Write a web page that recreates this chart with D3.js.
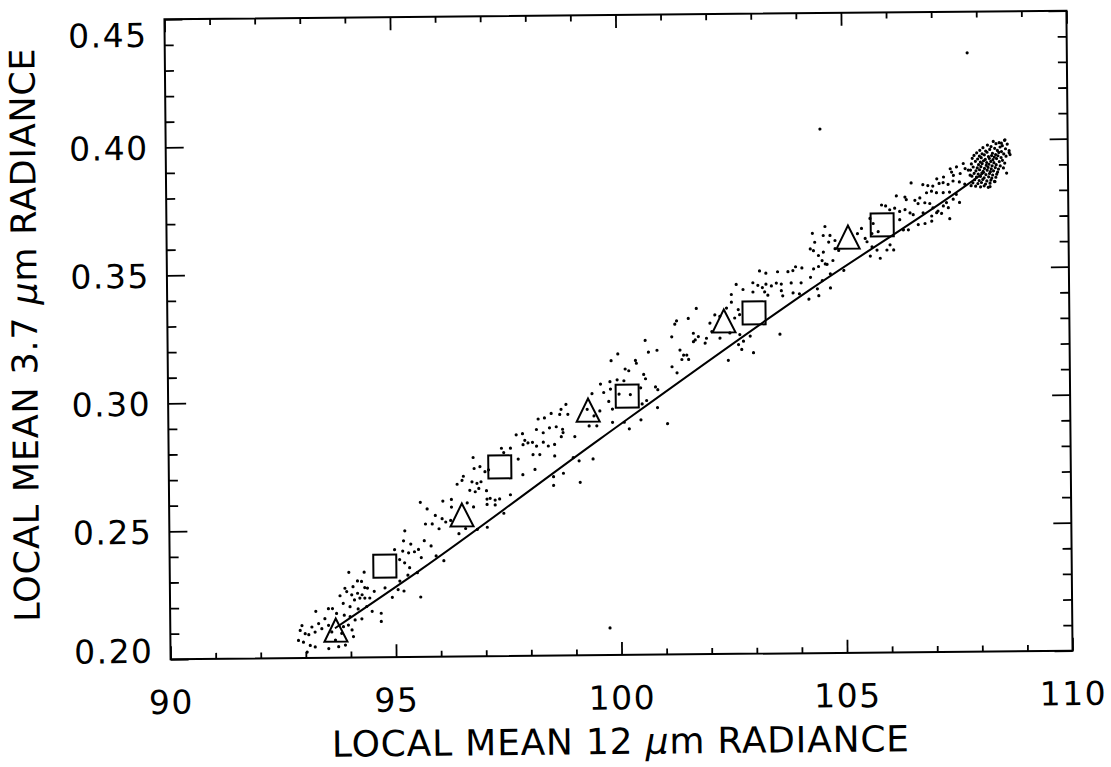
<!DOCTYPE html>
<html><head><meta charset="utf-8">
<script src="https://cdn.jsdelivr.net/npm/d3@7"></script>
<style>
body{margin:0;background:#fff;}
svg text{font-family:"DejaVu Sans",sans-serif;fill:#000;}
</style>
</head><body>
<svg id="chart" width="1111" height="767"></svg>
<script>
// ---------- data ----------
const xTickLabels = [90, 95, 100, 105, 110];
const yTickLabels = [0.20, 0.25, 0.30, 0.35, 0.40, 0.45];
const xTitle = "LOCAL MEAN 12 ";
const yTitle = "LOCAL MEAN 3.7 ";

const triangles = [[93.67,0.2108],[96.49,0.2553],[99.31,0.2958],[102.34,0.3301],[105.11,0.3624]];
const squares   = [[94.77,0.2356],[97.34,0.2739],[100.18,0.3011],[103.01,0.3331],[105.87,0.3670]];
const fitLine   = [[93.65,0.2115],[95.55,0.2339],[99.57,0.2845],[104.25,0.3419],[107.60,0.3804],[108.16,0.3873]];

const dotsLow = [[94.99,0.2420],[95.17,0.2414],[95.30,0.2407],[95.43,0.2411],[95.52,0.2420],[95.80,0.2433],[95.58,0.2388],[95.91,0.2394],[96.08,0.2375],[95.10,0.2381],[95.21,0.2368],[95.32,0.2349],[95.49,0.2329],[95.28,0.2320],[95.10,0.2297],[94.77,0.2271],[94.93,0.2234],[95.06,0.2264],[95.19,0.2258],[95.56,0.2234],[93.97,0.2333],[94.31,0.2333],[94.16,0.2299],[94.25,0.2297],[94.06,0.2277],[94.32,0.2273],[94.38,0.2271],[93.88,0.2271],[93.77,0.2242],[93.92,0.2258],[94.03,0.2245],[94.16,0.2251],[94.26,0.2245],[94.21,0.2232],[94.32,0.2232],[94.43,0.2232],[94.53,0.2258],[94.09,0.2225],[93.84,0.2212],[93.99,0.2199],[94.17,0.2190],[94.36,0.2199],[93.23,0.2182],[93.51,0.2192],[93.60,0.2192],[93.69,0.2173],[93.86,0.2166],[93.99,0.2160],[94.10,0.2147],[94.25,0.2151],[94.68,0.2172],[94.68,0.2140],[94.48,0.2180],[93.43,0.2153],[93.51,0.2127],[93.29,0.2134],[93.36,0.2114],[93.21,0.2101],[93.14,0.2121],[92.92,0.2127],[92.88,0.2108],[92.99,0.2095],[93.07,0.2091],[92.84,0.2069],[92.95,0.2062],[93.10,0.2049],[93.03,0.2023],[93.21,0.2043],[93.51,0.2036],[93.73,0.2043],[93.88,0.2049],[93.66,0.2069],[94.03,0.2108],[94.06,0.2082],[93.84,0.2121],[93.95,0.2127],[93.58,0.2101],[93.80,0.2095]];

const dotsMid = [[98.82,0.2981],[98.71,0.2962],[98.86,0.2942],[98.68,0.2942],[98.49,0.2946],[98.34,0.2929],[98.20,0.2925],[98.16,0.2884],[98.31,0.2871],[98.45,0.2890],[98.60,0.2894],[98.74,0.2884],[98.75,0.2871],[98.71,0.2855],[99.01,0.2855],[97.71,0.2864],[97.85,0.2868],[97.90,0.2842],[97.97,0.2832],[98.07,0.2834],[97.86,0.2825],[98.16,0.2819],[98.31,0.2834],[98.42,0.2819],[98.56,0.2825],[98.23,0.2786],[98.08,0.2786],[98.56,0.2780],[97.75,0.2769],[97.38,0.2812],[97.58,0.2812],[97.43,0.2795],[96.75,0.2777],[96.77,0.2734],[96.90,0.2741],[97.01,0.2721],[97.09,0.2728],[96.53,0.2704],[96.50,0.2688],[96.39,0.2673],[96.72,0.2682],[96.83,0.2676],[96.92,0.2682],[96.67,0.2649],[96.79,0.2643],[96.87,0.2656],[97.04,0.2647],[97.05,0.2614],[97.12,0.2617],[97.23,0.2610],[97.33,0.2614],[97.05,0.2593],[97.23,0.2591],[97.57,0.2630],[97.85,0.2708],[98.12,0.2728],[98.53,0.2699],[98.75,0.2712],[99.12,0.2676],[98.53,0.2665],[98.97,0.2773],[99.10,0.2760],[99.41,0.2767],[95.57,0.2604],[95.72,0.2578],[96.07,0.2608],[96.26,0.2614],[96.26,0.2584],[96.61,0.2600],[96.75,0.2584],[95.90,0.2552],[96.05,0.2539],[95.83,0.2519],[95.98,0.2500],[96.13,0.2526],[95.68,0.2519],[96.24,0.2532],[96.42,0.2480],[96.57,0.2500],[97.05,0.2504],[96.83,0.2496],[97.42,0.2558],[95.22,0.2493],[95.19,0.2454],[95.35,0.2441],[95.65,0.2454]];

const dotsUpper = [[103.14,0.3495],[103.28,0.3486],[103.54,0.3491],[103.77,0.3491],[103.88,0.3495],[102.62,0.3443],[102.99,0.3449],[103.10,0.3439],[103.20,0.3430],[103.28,0.3443],[103.40,0.3436],[103.51,0.3447],[103.62,0.3443],[103.84,0.3447],[104.06,0.3447],[102.77,0.3423],[102.99,0.3413],[103.25,0.3413],[103.32,0.3400],[103.62,0.3417],[103.65,0.3397],[103.88,0.3408],[104.02,0.3404],[102.51,0.3404],[102.51,0.3374],[102.40,0.3351],[102.66,0.3345],[102.69,0.3325],[102.58,0.3312],[101.73,0.3351],[102.14,0.3325],[102.03,0.3293],[102.25,0.3319],[101.55,0.3312],[101.29,0.3303],[101.25,0.3290],[101.66,0.3254],[101.77,0.3241],[101.70,0.3228],[101.66,0.3221],[101.95,0.3234],[101.92,0.3215],[102.07,0.3260],[102.25,0.3234],[102.47,0.3254],[102.69,0.3247],[102.77,0.3221],[102.92,0.3241],[102.99,0.3176],[102.73,0.3189],[102.66,0.3208],[103.58,0.3247],[102.43,0.3147],[101.18,0.3241],[100.59,0.3228],[100.85,0.3189],[100.66,0.3182],[101.36,0.3189],[101.44,0.3169],[101.51,0.3169],[101.55,0.3152],[101.40,0.3152],[100.37,0.3150],[100.39,0.3139],[99.98,0.3176],[99.83,0.3150],[100.14,0.3117],[100.22,0.3110],[100.55,0.3095],[100.59,0.3078],[101.18,0.3124],[101.29,0.3100],[100.48,0.3043],[100.81,0.3046],[100.86,0.3035],[100.61,0.2993],[100.51,0.2980],[100.85,0.2965],[99.96,0.3075],[100.11,0.3071],[99.59,0.3059],[99.80,0.3068],[99.81,0.3039],[99.66,0.3026],[99.40,0.3022],[100.00,0.3019],[100.25,0.3017],[99.77,0.2991],[99.85,0.2961],[99.57,0.2954],[99.29,0.2961],[99.44,0.2935],[99.50,0.2896],[99.85,0.2909],[100.11,0.2909],[100.48,0.2918],[101.07,0.2902],[100.22,0.2883],[99.33,0.2896]];

const dotsHigh = [[106.52,0.3833],[106.78,0.3826],[106.89,0.3822],[107.00,0.3820],[107.14,0.3830],[107.23,0.3833],[107.34,0.3826],[107.45,0.3839],[107.59,0.3835],[107.71,0.3826],[107.85,0.3820],[106.86,0.3794],[106.97,0.3800],[107.08,0.3794],[107.23,0.3794],[107.37,0.3796],[107.52,0.3787],[106.71,0.3774],[106.19,0.3783],[106.38,0.3778],[106.41,0.3768],[106.60,0.3765],[106.67,0.3752],[106.82,0.3755],[106.93,0.3752],[107.00,0.3735],[107.11,0.3722],[107.23,0.3742],[107.30,0.3755],[107.34,0.3735],[107.45,0.3768],[107.59,0.3755],[105.86,0.3748],[105.95,0.3744],[106.04,0.3729],[106.15,0.3735],[106.26,0.3722],[106.38,0.3729],[106.49,0.3716],[106.56,0.3709],[106.78,0.3716],[106.97,0.3703],[107.08,0.3716],[107.19,0.3713],[107.37,0.3692],[106.97,0.3683],[106.67,0.3670],[106.82,0.3674],[106.26,0.3690],[106.34,0.3650],[106.45,0.3650],[105.60,0.3696],[105.67,0.3676],[105.78,0.3644],[105.64,0.3637],[105.41,0.3657],[105.32,0.3637],[105.49,0.3618],[105.53,0.3605],[105.64,0.3585],[105.75,0.3572],[106.04,0.3592],[106.12,0.3572],[105.97,0.3572],[105.60,0.3549],[105.82,0.3540],[104.60,0.3666],[104.32,0.3640],[104.56,0.3631],[104.71,0.3631],[104.37,0.3605],[104.68,0.3605],[104.82,0.3611],[104.90,0.3572],[104.82,0.3579],[104.27,0.3579],[104.34,0.3572],[104.56,0.3566],[104.45,0.3553],[104.77,0.3533],[104.64,0.3518],[104.53,0.3533],[103.94,0.3510],[104.08,0.3505],[104.34,0.3501],[104.45,0.3510],[104.60,0.3520],[105.01,0.3494],[104.71,0.3481],[104.27,0.3468],[104.53,0.3455],[104.71,0.3426],[104.42,0.3423],[104.45,0.3396],[104.23,0.3383],[107.09,0.3848],[107.24,0.3855],[107.42,0.3874],[107.46,0.3861],[107.61,0.3868],[107.72,0.3887],[107.79,0.3881],[107.83,0.3861],[107.68,0.3907],[107.39,0.3887],[107.53,0.3894]];

const dotsCluster = [[108.35,0.3992],[108.48,0.3987],[108.60,0.3996],[108.22,0.3978],[108.41,0.3983],[108.55,0.3975],[108.66,0.3981],[108.12,0.3968],[108.30,0.3972],[108.38,0.3965],[108.50,0.3970],[108.62,0.3963],[108.05,0.3958],[108.18,0.3955],[108.27,0.3961],[108.44,0.3957],[108.53,0.3952],[108.70,0.3956],[107.98,0.3948],[108.10,0.3944],[108.21,0.3950],[108.33,0.3946],[108.40,0.3941],[108.47,0.3949],[108.58,0.3943],[107.92,0.3938],[108.04,0.3935],[108.15,0.3940],[108.24,0.3933],[108.31,0.3937],[108.37,0.3931],[108.45,0.3936],[108.52,0.3929],[108.63,0.3934],[107.88,0.3927],[108.00,0.3924],[108.08,0.3929],[108.17,0.3922],[108.26,0.3926],[108.34,0.3921],[108.42,0.3925],[108.55,0.3918],[107.95,0.3915],[108.06,0.3912],[108.13,0.3917],[108.20,0.3910],[108.29,0.3914],[108.36,0.3909],[108.48,0.3913],[108.60,0.3907],[107.86,0.3905],[108.02,0.3902],[108.10,0.3906],[108.19,0.3899],[108.25,0.3903],[108.32,0.3897],[108.41,0.3901],[108.50,0.3896],[107.90,0.3893],[107.99,0.3889],[108.07,0.3894],[108.15,0.3887],[108.23,0.3891],[108.30,0.3885],[108.39,0.3890],[108.46,0.3884],[108.57,0.3888],[107.84,0.3881],[107.96,0.3878],[108.04,0.3882],[108.12,0.3876],[108.21,0.3880],[108.28,0.3874],[108.35,0.3877],[108.44,0.3872],[107.92,0.3868],[108.01,0.3865],[108.09,0.3869],[108.18,0.3863],[108.26,0.3867],[108.33,0.3861],[108.42,0.3864],[107.87,0.3857],[107.97,0.3853],[108.06,0.3856],[108.14,0.3850],[108.24,0.3854],[108.31,0.3849],[108.40,0.3852],[107.93,0.3843],[108.03,0.3840],[108.11,0.3844],[108.20,0.3838],[108.29,0.3841],[108.37,0.3836],[107.89,0.3831],[108.00,0.3828],[108.08,0.3832],[108.17,0.3826],[108.27,0.3829],[107.95,0.3818],[108.06,0.3815],[108.14,0.3819],[108.23,0.3813],[108.61,0.3998],[108.70,0.3948],[108.64,0.3868],[108.38,0.3835],[108.27,0.3816],[108.53,0.3985],[108.72,0.3940]];

const dotsOutliers = [[107.79,0.4339],[104.51,0.4047],[99.75,0.2106]];

// ---------- layout ----------
const frame = {left:167.5, right:1069.5, top:15, bottom:655};
const tilt = -0.55;          // the scanned figure is slightly rotated
const cx = 618.5, cy = 335;

const x = d3.scaleLinear().domain([90,110]).range([frame.left, frame.right]);
const y = d3.scaleLinear().domain([0.20,0.45]).range([frame.bottom, frame.top]);

const svg = d3.select("#chart");
svg.append("rect").attr("width",1111).attr("height",767).attr("fill","#fff");
const g = svg.append("g").attr("transform",`rotate(${tilt} ${cx} ${cy})`);

const xMinorTicks = d3.range(90,111,1).filter(v => v % 5 !== 0);
const yMinorTicks = d3.range(20,46,1).filter(v => v % 5 !== 0).map(v => v/100);

function styleAxis(sel){
  sel.attr("font-size",33).attr("font-family","DejaVu Sans, sans-serif");
  sel.select(".domain").remove();
  sel.selectAll(".tick line").attr("stroke","#000").attr("stroke-width",1.8);
  sel.selectAll(".tick text").attr("fill","#000").attr("letter-spacing","1.5px");
}

// bottom
g.append("g").attr("transform",`translate(0,${frame.bottom})`)
  .call(d3.axisBottom(x).tickValues(xTickLabels).tickSize(-13).tickPadding(31).tickFormat(d3.format("d")))
  .call(styleAxis);
g.append("g").attr("transform",`translate(0,${frame.bottom})`)
  .call(d3.axisBottom(x).tickValues(xMinorTicks).tickSize(-6).tickFormat(""))
  .call(styleAxis);
// top
g.append("g").attr("transform",`translate(0,${frame.top})`)
  .call(d3.axisTop(x).tickValues(xTickLabels).tickSize(-13).tickFormat(""))
  .call(styleAxis);
g.append("g").attr("transform",`translate(0,${frame.top})`)
  .call(d3.axisTop(x).tickValues(xMinorTicks).tickSize(-6).tickFormat(""))
  .call(styleAxis);
// left
const yAx = g.append("g").attr("transform",`translate(${frame.left},0)`)
  .call(d3.axisLeft(y).tickValues(yTickLabels).tickSize(-18).tickPadding(17).tickFormat(d3.format(".2f")))
  .call(styleAxis);
yAx.selectAll(".tick text").attr("dy","0.36em")
  .attr("transform", d => d === 0.45 ? "translate(0,15)" : d === 0.20 ? "translate(0,-9)" : null);
g.append("g").attr("transform",`translate(${frame.left},0)`)
  .call(d3.axisLeft(y).tickValues(yMinorTicks).tickSize(-9).tickFormat(""))
  .call(styleAxis);
// right
g.append("g").attr("transform",`translate(${frame.right},0)`)
  .call(d3.axisRight(y).tickValues(yTickLabels).tickSize(-18).tickFormat(""))
  .call(styleAxis);
g.append("g").attr("transform",`translate(${frame.right},0)`)
  .call(d3.axisRight(y).tickValues(yMinorTicks).tickSize(-9).tickFormat(""))
  .call(styleAxis);

// frame
g.append("rect")
  .attr("x",frame.left).attr("y",frame.top)
  .attr("width",frame.right-frame.left).attr("height",frame.bottom-frame.top)
  .attr("fill","none").attr("stroke","#000").attr("stroke-width",2);

// scatter
const allDots = [].concat(dotsLow, dotsMid, dotsUpper, dotsHigh, dotsCluster, dotsOutliers);
g.append("g").selectAll("circle").data(allDots).join("circle")
  .attr("cx", d => x(d[0])).attr("cy", d => y(d[1]))
  .attr("r", 1.6).attr("fill","#000");

// fit line
g.append("path").datum(fitLine)
  .attr("d", d3.line().x(d => x(d[0])).y(d => y(d[1])).curve(d3.curveMonotoneX))
  .attr("fill","none").attr("stroke","#000").attr("stroke-width",2);

// triangles
const tri = 11.5;
g.append("g").selectAll("path").data(triangles).join("path")
  .attr("d", d => {
    const px = x(d[0]), py = y(d[1]);
    return `M${px-tri},${py+tri}L${px},${py-tri}L${px+tri},${py+tri}Z`;
  })
  .attr("fill","none").attr("stroke","#000").attr("stroke-width",2).attr("stroke-linejoin","miter");

// squares
const sq = 11.5;
g.append("g").selectAll("rect").data(squares).join("rect")
  .attr("x", d => x(d[0]) - sq).attr("y", d => y(d[1]) - sq)
  .attr("width", 2*sq).attr("height", 2*sq)
  .attr("fill","none").attr("stroke","#000").attr("stroke-width",2);

// titles
const xt = g.append("text")
  .attr("x", 617).attr("y", 754)
  .attr("text-anchor","middle").attr("font-size",36).attr("letter-spacing","0.8px");
xt.append("tspan").text(xTitle);
xt.append("tspan").attr("font-style","italic").text("\u03bc");
xt.append("tspan").text("m RADIANCE");

const yt = g.append("text")
  .attr("transform","translate(37,329) rotate(-90)")
  .attr("text-anchor","middle").attr("font-size",35).attr("letter-spacing","0.8px");
yt.append("tspan").text(yTitle);
yt.append("tspan").attr("font-style","italic").text("\u03bc");
yt.append("tspan").text("m RADIANCE");
</script>
</body></html>
